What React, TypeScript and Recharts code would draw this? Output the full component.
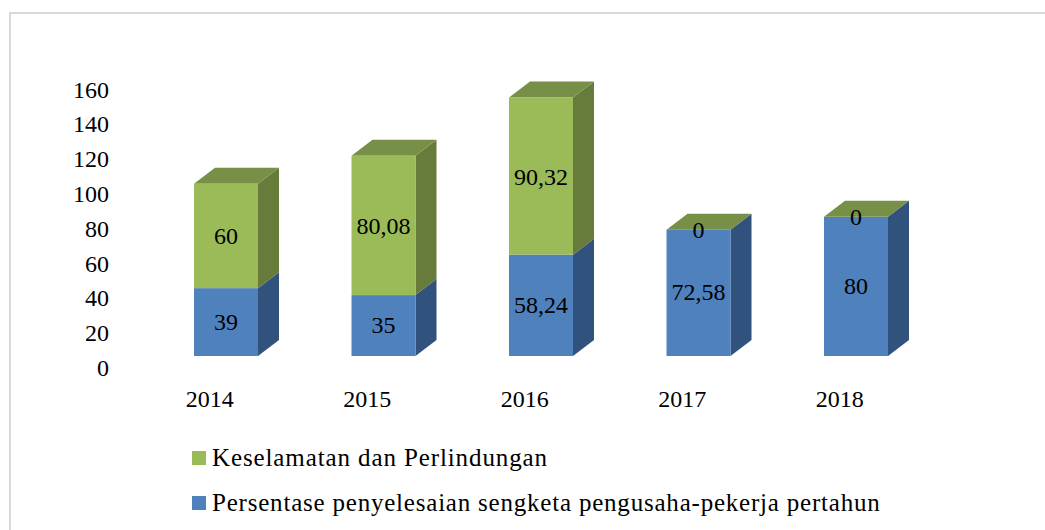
import { BarChart, Bar, XAxis, YAxis, LabelList, Legend } from 'recharts'

const years = ['2014', '2015', '2016', '2017', '2018']
const penyelesaian = [39, 35, 58.24, 72.58, 80]
const keselamatan = [60, 80.08, 90.32, 0, 0]
const yTicks = [0, 20, 40, 60, 80, 100, 120, 140, 160]

const SERIES_BLUE = 'Persentase penyelesaian sengketa pengusaha-pekerja pertahun'
const SERIES_GREEN = 'Keselamatan dan Perlindungan'

const data = years.map((year, i) => ({
  year,
  blue: penyelesaian[i],
  green: keselamatan[i],
}))

const FONT = '"Liberation Serif", serif'
const DEPTH_X = 21
const DEPTH_Y = 16

const Box3D = ({ x, y, width, height, front, side, top }: any) => {
  const r = x + width
  const b = y + height
  return (
    <g>
      <polygon
        points={`${r},${y} ${r + DEPTH_X},${y - DEPTH_Y} ${r + DEPTH_X},${b - DEPTH_Y} ${r},${b}`}
        fill={side}
      />
      {top && (
        <polygon
          points={`${x},${y} ${x + DEPTH_X},${y - DEPTH_Y} ${r + DEPTH_X},${y - DEPTH_Y} ${r},${y}`}
          fill={top}
        />
      )}
      <rect x={x} y={y} width={width} height={height} fill={front} />
    </g>
  )
}

const YTick = ({ x, y, payload }: any) => (
  <text x={x - 30} y={y + 12} textAnchor="end" dominantBaseline="central" fontSize={24} fontFamily={FONT} fill="#000">
    {payload.value}
  </text>
)

const XTick = ({ x, y, payload }: any) => (
  <text x={x - 16} y={y + 35} textAnchor="middle" dominantBaseline="central" fontSize={24} fontFamily={FONT} fill="#000">
    {payload.value}
  </text>
)

const LegendContent = ({ payload }: any) => (
  <div style={{ fontFamily: FONT, fontSize: 25, color: '#000' }}>
    {(payload ?? []).map((item: any) => (
      <div key={item.value} style={{ display: 'flex', alignItems: 'center', height: 45, whiteSpace: 'nowrap' }}>
        <span style={{ width: 14, height: 14, background: item.color, marginRight: 6 }} />
        <span style={{ letterSpacing: item.value === SERIES_BLUE ? 0.79 : 0.89 }}>{item.value}</span>
      </div>
    ))}
  </div>
)

const fmt = (v: any) => String(v).replace('.', ',')

export default function App() {
  return (
    <div style={{ position: 'fixed', left: 0, top: 0, width: 1045, height: 530, background: '#fff', overflow: 'hidden' }}>
      <div
        style={{
          position: 'absolute',
          left: 9,
          top: 12,
          width: 1100,
          height: 600,
          borderLeft: '2px solid #d9d9d9',
          borderTop: '2px solid #d9d9d9',
        }}
      />
      <BarChart
        width={1045}
        height={530}
        data={data}
        barSize={64}
        margin={{ top: 77.6, right: 110.5, left: 0, bottom: 144 }}
      >
        <XAxis dataKey="year" axisLine={false} tickLine={false} tick={<XTick />} height={30} interval={0} />
        <YAxis
          width={147}
          domain={[0, 160]}
          ticks={yTicks}
          axisLine={false}
          tickLine={false}
          tick={<YTick />}
          interval={0}
        />
        <Legend
          layout="horizontal"
          verticalAlign="middle"
          align="center"
          content={<LegendContent />}
          wrapperStyle={{ left: 192, top: 435, width: 800 }}
        />
        <Bar
          dataKey="blue"
          name={SERIES_BLUE}
          stackId="a"
          fill="#4f81bd"
          isAnimationActive={false}
          shape={(p: any) => <Box3D {...p} front="#4f81bd" side="#30527c" />}
        >
          <LabelList dataKey="blue" position="center" formatter={fmt} fontSize={24} fontFamily={FONT} fill="#000" dy={-1} />
        </Bar>
        <Bar
          dataKey="green"
          name={SERIES_GREEN}
          stackId="a"
          fill="#9bbb59"
          isAnimationActive={false}
          shape={(p: any) => <Box3D {...p} front="#9bbb59" side="#677b3a" top="#778f47" />}
        >
          <LabelList dataKey="green" position="center" formatter={fmt} fontSize={24} fontFamily={FONT} fill="#000" />
        </Bar>
      </BarChart>
    </div>
  )
}
